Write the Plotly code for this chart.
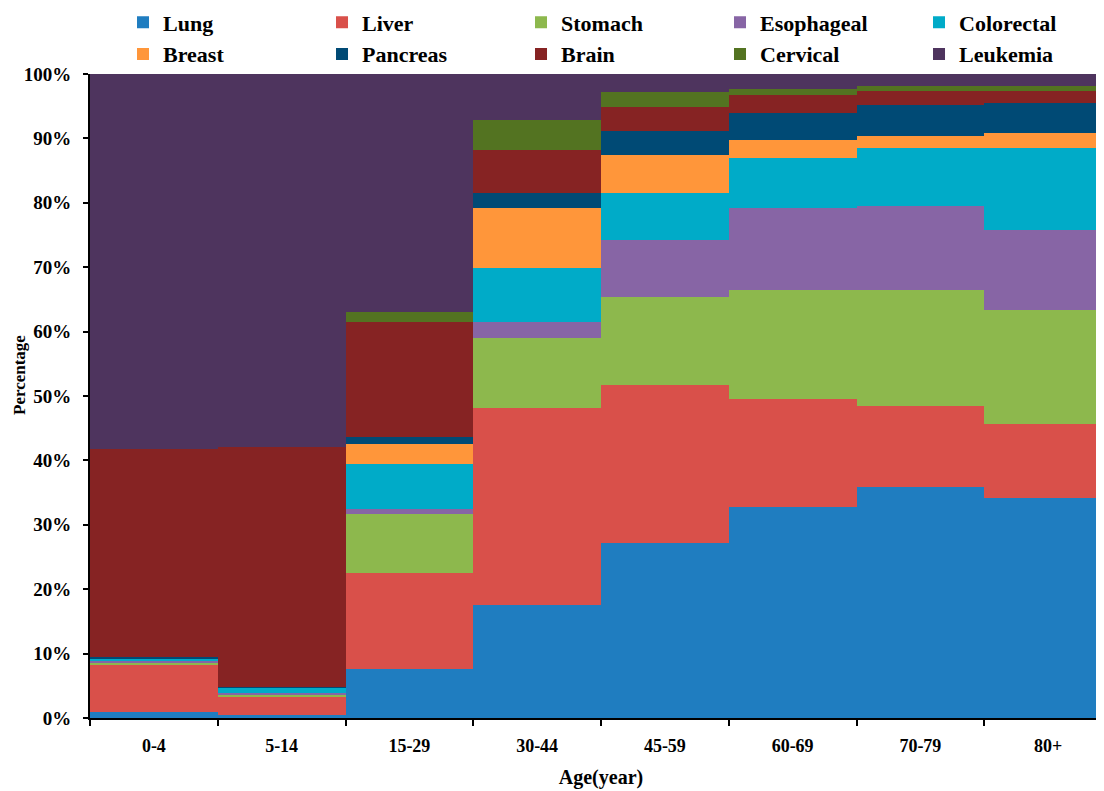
import plotly.graph_objects as go

ages = ["0-4", "5-14", "15-29", "30-44", "45-59", "60-69", "70-79", "80+"]

lung       = [1.0, 0.4, 7.6, 17.5, 27.2, 32.7, 35.8, 34.2]
liver      = [7.2, 2.8, 14.9, 30.7, 24.5, 16.8, 12.6, 11.4]
stomach    = [0.4, 0.4, 9.2, 10.8, 13.6, 17.0, 18.1, 17.8]
esophageal = [0.3, 0.3, 0.7, 2.5, 9.0, 12.7, 13.0, 12.3]
colorectal = [0.3, 0.8, 7.1, 8.4, 7.2, 7.8, 9.0, 12.8]
breast     = [0.1, 0.1, 3.1, 9.3, 5.9, 2.8, 1.9, 2.3]
pancreas   = [0.2, 0.05, 1.0, 2.4, 3.7, 4.2, 4.8, 4.7]
brain      = [32.3, 37.3, 17.9, 6.6, 3.7, 2.8, 2.1, 1.8]
cervical   = [0.0, 0.0, 1.6, 4.6, 2.4, 0.9, 0.8, 0.8]
leukemia   = [58.2, 57.85, 36.9, 7.2, 2.8, 2.3, 1.9, 1.9]

series_names = ["Lung", "Liver", "Stomach", "Esophageal", "Colorectal",
                "Breast", "Pancreas", "Brain", "Cervical", "Leukemia"]
series_values = [lung, liver, stomach, esophageal, colorectal,
                 breast, pancreas, brain, cervical, leukemia]
colors = ["#1F7DC0", "#D9504A", "#8DB84D", "#8765A5", "#00ABC8",
          "#FF963A", "#004A75", "#862323", "#537321", "#4E345E"]

y_ticks = [0, 10, 20, 30, 40, 50, 60, 70, 80, 90, 100]

FONT = "Liberation Serif"

fig = go.Figure()
for name, vals, col in zip(series_names, series_values, colors):
    fig.add_trace(go.Bar(
        x=ages, y=vals, name=name,
        marker=dict(color=col, line=dict(width=0)),
        width=1,
    ))

fig.update_layout(
    barmode="stack",
    bargap=0,
    width=1104, height=791,
    margin=dict(l=82, r=0, t=66, b=81, autoexpand=False),
    plot_bgcolor="white",
    paper_bgcolor="white",
    font=dict(family=FONT, size=16, color="black"),
    legend=dict(
        orientation="h",
        x=0.0323, xanchor="left",
        y=1.1126, yanchor="top",
        traceorder="normal",
        entrywidth=154, entrywidthmode="pixels",
        itemwidth=30,
        font=dict(family=FONT, size=22, color="black", weight="bold"),
        tracegroupgap=0,
        bgcolor="rgba(0,0,0,0)",
        borderwidth=0,
    ),
    showlegend=True,
    annotations=[dict(
        text="Percentage", textangle=-90,
        xref="paper", yref="paper",
        x=-(90 - 19) / 1022, y=(718 - 375) / 644,
        xanchor="center", yanchor="middle", showarrow=False,
        font=dict(family=FONT, size=17, color="black", weight="bold"),
    )],
)

fig.update_xaxes(
    type="category",
    range=[-0.5, 7.5],
    tickson="boundaries",
    ticks="outside", ticklen=6, tickwidth=2, tickcolor="black",
    showline=True, linecolor="black", linewidth=2,
    showgrid=False,
    automargin=False,
    ticklabelstandoff=10,
    tickfont=dict(family=FONT, size=18, color="black", weight="bold"),
    title=dict(text="Age(year)", font=dict(family=FONT, size=20, color="black", weight="bold"), standoff=15),
)
fig.update_yaxes(
    range=[0, 100],
    tickvals=y_ticks,
    ticktext=[f"{v}%" for v in y_ticks],
    ticks="outside", ticklen=5, tickwidth=2, tickcolor="black",
    showline=True, linecolor="black", linewidth=2,
    showgrid=False,
    zeroline=False,
    automargin=False,
    ticklabelstandoff=8,
    tickfont=dict(family=FONT, size=19, color="black", weight="bold"),
)

fig.write_html("out.html")
